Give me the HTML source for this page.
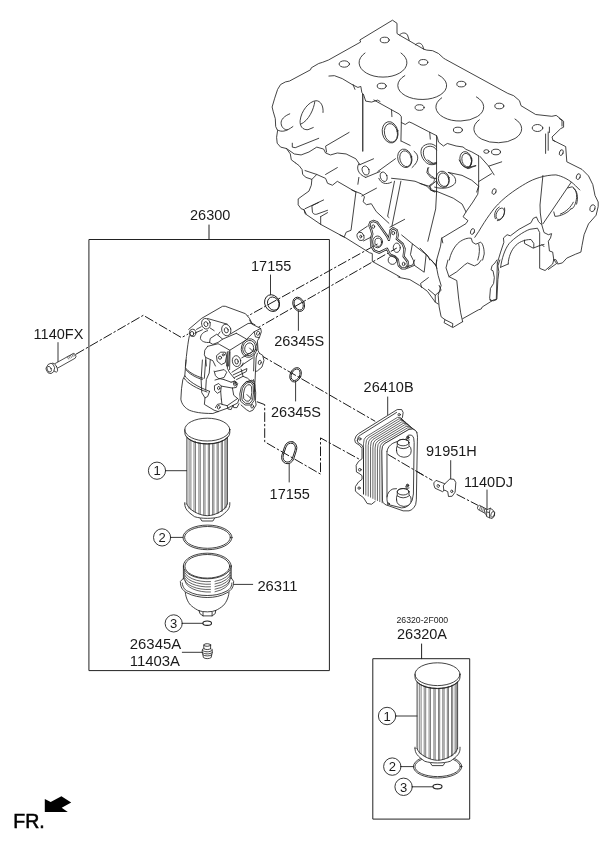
<!DOCTYPE html>
<html><head><meta charset="utf-8">
<style>
html,body{margin:0;padding:0;background:#fff;}
svg{display:block;will-change:transform;opacity:.999}
text{font-family:"Liberation Sans",sans-serif;fill:#1a1a1a}
.l{fill:none;stroke:#222;stroke-width:1;stroke-linecap:round;stroke-linejoin:round}
.t{fill:none;stroke:#222;stroke-width:.85;stroke-linecap:round;stroke-linejoin:round}
.w{fill:#fff;stroke:#222;stroke-width:1;stroke-linejoin:round}
.d{fill:none;stroke:#1a1a1a;stroke-width:1;stroke-dasharray:9.6 2 2.4 2}
.lb{font-size:14.5px}
#parts *{vector-effect:non-scaling-stroke}
</style></head><body>
<svg width="613" height="848" viewBox="0 0 613 848">
<rect width="613" height="848" fill="#fff"/>
<!-- BOXES -->
<g id="boxes" class="l">
<rect x="89.3" y="239.5" width="240.1" height="431.1"/>
<line x1="209" y1="225" x2="209" y2="239.5"/>
<rect x="373.2" y="658.7" width="96.5" height="160.4"/>
<line x1="421.6" y1="644" x2="421.6" y2="658.7"/>
</g>
<!-- LABELS -->
<g id="labels" class="lb">
<text x="190" y="220">26300</text>
<text x="251" y="270.7">17155</text>
<text x="274.2" y="346">26345S</text>
<text x="271" y="416.6">26345S</text>
<text x="269.6" y="498.8">17155</text>
<text x="33.6" y="338.8">1140FX</text>
<text x="363.6" y="391.8">26410B</text>
<text x="426" y="456">91951H</text>
<text x="464" y="487">1140DJ</text>
<text x="257.4" y="590.8" style="font-size:14.8px">26311</text>
<text x="129.8" y="648.8" style="font-size:14.9px">26345A</text>
<text x="129.8" y="665.8" style="font-size:14.9px">11403A</text>
<text x="397" y="639">26320A</text>
<text x="396.5" y="622.6" style="font-size:8.7px">26320-2F000</text>
<text x="13.3" y="827.6" style="font-size:19.5px;fill:#000;stroke:#000;stroke-width:.55">FR.</text>
</g>
<!-- PARTS -->
<g id="parts">
<!-- CENTERLINES -->
<g id="dashes" class="d">
<path d="M75.8,354.3 L143.3,315.3 L181.5,337.6 L190,333"/>
<path d="M226,328 L251.4,314 L377.5,244"/>
<path d="M252,331 L260.4,326.3 L396.8,248"/>
<path d="M259.8,354.7 L375.2,421.3"/>
<path d="M256.9,401.7 L264.7,404.6 L264.7,441.8 L320.5,474.1 L320.5,437.9 L359.8,459.5"/>
<path d="M387.7,454.3 L432.3,480.4 M456.6,494.3 L477.9,505.3"/>
</g>
<!-- RINGS -->
<g id="rings" class="t" style="stroke-width:1">
<ellipse cx="272.1" cy="303.1" rx="7.3" ry="8.6" transform="rotate(-25 272.1 303.1)"/>
<ellipse cx="273.3" cy="303.6" rx="5.6" ry="6.8" transform="rotate(-25 273.3 303.6)"/>
<ellipse cx="298.7" cy="304.3" rx="5.6" ry="7.4" transform="rotate(-25 298.7 304.3)"/>
<ellipse cx="298.7" cy="304.3" rx="4.3" ry="6" transform="rotate(-25 298.7 304.3)"/>
<ellipse cx="295.6" cy="374.8" rx="5.4" ry="7.5" transform="rotate(25 295.6 374.8)"/>
<ellipse cx="295.6" cy="374.8" rx="4.1" ry="6.1" transform="rotate(25 295.6 374.8)"/>
<rect x="283" y="441.2" width="12.4" height="22.8" rx="6.2" ry="7" transform="rotate(18 289.2 452.6)"/>
<rect x="284.4" y="442.8" width="9.6" height="19.6" rx="4.8" ry="5.6" transform="rotate(18 289.2 452.6)"/>
</g>
<!-- ring/label leaders -->
<g class="l" style="stroke-width:.9">
<line x1="270.5" y1="275" x2="270.5" y2="294.5"/>
<line x1="298.4" y1="311" x2="298.4" y2="330.4"/>
<line x1="295.6" y1="382" x2="295.6" y2="401"/>
<line x1="289.2" y1="463.5" x2="289.2" y2="482"/>
<line x1="58" y1="342.6" x2="58" y2="361.9"/>
<line x1="387.7" y1="397" x2="387.7" y2="414.7"/>
<line x1="450.7" y1="460.6" x2="450.7" y2="478.9"/>
<line x1="487" y1="490" x2="487" y2="508.6"/>
</g>
<!-- BOLT 1140FX -->
<g id="boltfx" class="t" style="stroke-width:.8">
<path d="M55.4,363.4 L73.4,353.4 L75.2,354.2 L76,356.4 L75.2,358.2 L56.9,368.5" style="fill:#fff"/>
<path d="M67.5,357 L68.5,359 M69,356.2 L70,358.2 M70.5,355.4 L71.5,357.4 M72,354.6 L73,356.6 M73.4,353.9 L74.4,355.9" style="stroke-width:.6"/>
<ellipse cx="54.6" cy="367.6" rx="2.2" ry="4.9" transform="rotate(-25 54.6 367.6)" style="fill:#fff"/>
<path d="M46.2,367.8 L48.1,364.5 L51,363.2 L53.2,364.5 L54.7,367.8 L53.6,371.8 L51,373.6 L48.1,372.9 L46.5,370.3 Z" style="fill:#fff"/>
<ellipse cx="49.2" cy="369.2" rx="2" ry="3" transform="rotate(-25 49.2 369.2)"/>
</g>
<!-- COOLER -->
<g id="cooler" class="t">
<g transform="translate(340,400) scale(0.146819)">
<path d="M240,690 L215,710 L185,705 L160,665 L125,640 L105,620 L105,590 L125,560 L150,540 L150,515 L130,500 L112,490 L110,445 L125,420 L150,400 L150,330 L135,310 L105,290 L100,270 L110,245 L125,230 L390,65 L420,65 L430,85 L425,120 L415,130 L530,230 L520,680 L505,730 L470,755 L430,755 L330,720 Z" style="fill:#fff;stroke:none"/>
<path d="M240,690 L215,710 L185,705 L160,665 L125,640 L105,620 L105,590 L125,560 L150,540 L150,515 L130,500 L112,490 L110,445 L125,420 L150,400 L150,330 L135,310 L105,290 L100,270 L110,245 L125,230 L390,65 L420,65 L430,85 L425,120 L415,130"/>
<path d="M118,275 L125,250 L140,238 L385,85 M160,330 L160,640 M118,275 L122,290 L150,308 L160,330"/>
<circle cx="403" cy="100" r="8"/><circle cx="135" cy="265" r="8"/><circle cx="135" cy="475" r="9"/><circle cx="130" cy="600" r="8"/>
<path d="M287,700 L287,345 Q287,310 304,298 L470,200 Q498,193 514,208 M271,692 L271,339 Q271,304 288,292 L460,190 Q488,183 504,200 M255,685 L255,333 Q255,298 272,286 L450,180 Q478,172 493,191 M239,678 L239,327 Q239,292 257,280 L441,169 Q468,162 482,183 M224,670 L224,322 Q224,286 241,274 L431,159 Q458,152 472,174 M208,662 L208,316 Q208,280 225,268 L421,149 Q447,142 462,166 M192,655 L192,310 Q192,274 210,262 L412,138 Q437,132 451,158 M176,648 L176,304 Q176,268 194,256 L402,128 Q427,121 440,149 M160,640 L160,298 Q160,262 178,250 L392,118 Q417,111 430,141 M415,130 L428,140 L527,222" style="stroke-width:.7"/>
<path d="M285,345 Q285,310 302,298 L470,200 Q500,192 512,206 Q532,222 527,280 L520,680 Q518,720 505,730 Q490,752 470,755 L430,755 L330,720 Q295,712 290,690 Z" style="fill:#fff"/>
<path d="M320,350 Q325,315 360,295 L395,280 M465,240 Q495,232 502,260 L505,290 L500,640 Q498,690 470,715 Q445,738 420,735 L340,715 Q318,705 320,680 L320,350 M320,660 Q325,620 360,606 L385,604"/>
<!-- upper port -->
<ellipse cx="462" cy="255" rx="8" ry="9" style="fill:#555"/><path d="M450,262 L455,275 L472,272"/>
<path d="M385,345 Q385,385 435,390 Q485,388 485,345 Q485,320 470,312 L470,290 A40,22 0 0 0 390,290 L390,312 Q382,325 385,345 Z" style="fill:#fff"/>
<ellipse cx="430" cy="290" rx="40" ry="22"/>
<path d="M390,318 Q430,346 471,318"/>
<!-- lower port -->
<ellipse cx="460" cy="582" rx="8" ry="9" style="fill:#555"/><path d="M448,589 L453,602 L470,599"/>
<path d="M385,680 Q385,720 435,725 Q485,723 485,680 Q485,655 470,647 L470,625 A40,22 0 0 0 390,625 L390,647 Q382,660 385,680 Z" style="fill:#fff"/>
<ellipse cx="430" cy="625" rx="40" ry="22"/>
<path d="M390,653 Q430,681 471,653"/>
<circle cx="330" cy="708" r="7"/>
</g>
</g>
<!-- cooler centerline over front -->
<path class="d" d="M387.7,454.3 L425,476.3"/>
<!-- BRACKET -->
<g id="bracket" class="t">
<g transform="translate(425,440) scale(0.146819)">
<path d="M62,290 L75,275 L135,298 L170,265 L198,268 L210,290 L205,355 L185,383 L160,385 L155,352 L135,342 L128,345 L120,352 L68,328 L62,310 Z" style="fill:#fff"/>
<path d="M135,298 L125,312 L128,345"/>
<ellipse cx="90" cy="313" rx="8" ry="10" transform="rotate(-20 90 313)"/><ellipse cx="182" cy="350" rx="7" ry="9" transform="rotate(-20 182 350)"/>
</g>
</g>
<!-- BOLT 1140DJ -->
<g id="boltdj" class="t" style="stroke-width:.8">
<path d="M487,509.3 L479.3,505.3 C477.6,505.6 476.8,508.4 478.1,509.5 L485.2,513.4" style="fill:#fff"/>
<path d="M480.6,506 L479.6,509.6 M482.1,506.8 L481.1,510.4 M483.6,507.6 L482.6,511.2 M485.1,508.4 L484.1,512" style="stroke-width:.6"/>
<ellipse cx="486.8" cy="512.8" rx="1.7" ry="4.2" transform="rotate(-22 486.8 512.8)" style="fill:#fff"/>
<path d="M487,509.7 L490.3,508.2 L493.3,510.4 L494.7,512.6 L494.4,515.9 L492.2,518.5 L489.6,517.8 L487,516.7 Z" style="fill:#fff"/>
<path d="M490.3,508.2 L489.4,512.5 L489.6,517.8 M489.4,512.5 L487,512"/>
<ellipse cx="492.7" cy="514.4" rx="1.7" ry="3" transform="rotate(20 492.7 514.4)"/>
</g>
<!--BLOCK-START-->
<!-- ENGINE BLOCK -->
<g id="block" class="t">
<!-- top deck outline + right side outline (real coords) -->
<path d="M295.2,162.7 L291.3,159.8 L290.3,153.9 L286.4,148.5 L280.6,147.1 L277.2,143.2 L276.6,137.3 L277.6,130.5 L275.7,126.6 L275.3,118.7 L273.3,111.9 L272.1,107 L274.7,98.2 L277.6,89.4 L280.6,84.5 L285.5,81.9 L289.4,81.1 L310.5,69.8 L311.3,67.8 L318.7,63.5 L322.6,62.3 L328.5,60 L360.7,42 L359.8,40 L392.5,20.2 L397,23.3 L397,33.5 L399.4,35.1 L423.8,49.2 L426.8,50.1 L432.6,50.7 L438.5,53.5 L443.4,58 L445.4,59.3 L507.8,93.4 L513.7,95.7 L519.5,100.7 L521,105.7 L535.7,114.5 L551.8,116.3 L556.2,115.4 L560.7,118.9 L563.6,121.3 L563.6,127.2 L560.7,128.6 L552,137 L553,140.3 L565.7,146.6 L566.8,161.8 L582,169.4 L588.5,175.9 L592.8,184.6 L595,195.5 L598.2,202 L598.2,206.5 L596.1,215.2 L588.5,223.9 L584.1,234.7 L582,245.6 L580.9,252.1 L575.5,254.2 L566.8,258.1 L562.4,262.9 L558.1,264 L555.9,259.7 L553.8,259.7"/>
<path d="M559.2,118.4 L562,120.6 L562,126"/>
<!-- bumps on top right edge -->
<path d="M399.4,35.1 C402,32 406,32.5 407.5,35 L409.2,40.3 M415.4,44.8 C418,42 421,43 422.5,45.5 L423.8,49.2"/>
<!-- bores -->
<path d="M365,53 A24,14.5 0 1 0 401,53"/>
<path d="M404.8,75.6 A24.5,14 0 1 0 438.5,75"/>
<path d="M441.7,97.8 A24,14 0 1 0 476.4,96.9"/>
<path d="M479.3,119.8 A24,14 0 1 0 515,119"/>
<!-- small deck holes -->
<g>
<ellipse cx="384.7" cy="40" rx="4.5" ry="2.8"/><ellipse cx="423.3" cy="62.3" rx="4.5" ry="2.8"/>
<ellipse cx="381.7" cy="86" rx="4.5" ry="2.8"/><ellipse cx="461.3" cy="84.1" rx="4.5" ry="2.8"/>
<ellipse cx="419.6" cy="107.5" rx="4.5" ry="2.8"/><ellipse cx="344.3" cy="64" rx="5.2" ry="3.2"/>
<ellipse cx="499.3" cy="106" rx="4.5" ry="2.8"/><ellipse cx="457.9" cy="130" rx="4.5" ry="2.8"/>
<ellipse cx="537.5" cy="128" rx="5.3" ry="3.5"/><ellipse cx="496" cy="152" rx="4.5" ry="2.8"/>
<ellipse cx="486.4" cy="151.5" rx="2.6" ry="1.8"/>
<ellipse cx="561.3" cy="152.6" rx="1.8" ry="3" transform="rotate(20 561.3 152.6)"/>
<ellipse cx="578.3" cy="176.6" rx="1.9" ry="3" transform="rotate(20 578.3 176.6)"/>
<ellipse cx="494.1" cy="191.5" rx="1.9" ry="3" transform="rotate(20 494.1 191.5)"/>
<ellipse cx="592.5" cy="208.2" rx="2.5" ry="3.6" transform="rotate(20 592.5 208.2)"/>
<ellipse cx="472.5" cy="231.5" rx="1.9" ry="3" transform="rotate(20 472.5 231.5)"/>
</g>
<!-- double verticals on right -->
<path d="M545.6,134 L545.6,153.4 M548.2,132 L548.2,150.3 M549.4,127.1 L549.4,132.5"/>
<!-- long double lines in center -->
<path d="M394.5,181.2 L387.6,216.4 L389,217.5 M400.9,181.2 L391.9,226.2"/>
<!-- bell housing outer arc -->
<path d="M474.8,237.3 L478.7,231.5 C486,219 494,208 498.3,204 C507,195 518,188 525.7,183.5 C534,178.5 545,175 555.9,174.9 C562,176 570,180 575.5,185.7 L579.8,190"/>
<!-- lines from arc -->
<path d="M542.9,175.5 L540,205 L540.3,213 L541.8,223.9 M571.1,182.4 L542.9,223.9"/>
<!-- oval hole upper right -->
<path d="M567.9,187.9 L572.2,186.8 C575.5,188.5 577,193 576.6,197.6 C576,204 573,210 571.1,208.7 M571.1,208.7 C568,213 560,216.5 554.9,216.3 L553.8,211.9 M573.3,187.9 C577.5,191 578.5,197 576.6,204.1 M573.3,202.2 C571,207 566,212 560.3,214.1"/>
<!-- tile G1: left face -->
<g transform="translate(260,60) scale(0.19576)">
<path d="M152,275 C125,285 105,305 108,325 C110,345 125,358 140,356 M90,358 C110,368 130,368 168,340"/>
<path d="M322,268 C325,235 310,207 285,208 C250,212 210,260 205,310 C203,335 215,358 245,356 L272,345 M280,213 C275,250 250,310 208,328"/>
<path d="M165,425 L165,445 L180,448 L300,400 M135,452 L175,480 L210,485 L250,470 L290,445 L325,455 L335,475 L360,485 L395,475 L440,480 L490,505 L510,535 M455,370 L335,440 L340,470"/>
<path d="M352,82 L380,80 L420,95 L470,125 L500,140 L515,135 L520,165 L530,180 L540,210 L570,215 L600,205 L613,212 M475,125 L485,150"/>
<path d="M525,175 L525,465" style="stroke-width:1.2"/>
</g>
<!-- tile G3: center plugs -->
<g transform="translate(370,100) scale(0.19576)">
<path d="M20,0 L110,50 L150,72 L160,85 L160,115 L180,125 L200,112 L215,118 L300,162 L340,182 L345,195 L350,215 L375,235 L395,222 L440,235 L475,240 L490,252 L520,265 L555,285"/>
<path d="M110,50 L112,85 M160,115 L158,210 M305,165 L308,200 M340,182 L340,470 M160,210 L205,232"/>
<ellipse cx="103" cy="165" rx="40" ry="55" transform="rotate(-12 103 165)"/>
<ellipse cx="107" cy="168" rx="33" ry="48" transform="rotate(-12 107 168)"/>
<ellipse cx="178" cy="298" rx="36" ry="48" transform="rotate(-15 178 298)"/>
<ellipse cx="182" cy="300" rx="29" ry="41" transform="rotate(-15 182 300)"/>
<path d="M225,262 C250,280 255,310 215,345"/>
<path d="M340,240 C320,215 285,222 268,240 C250,265 265,310 300,328 C315,333 330,330 340,325 M340,255 C325,230 295,232 278,248 C265,270 275,305 305,322 C320,326 330,322 340,318"/>
<ellipse cx="490" cy="305" rx="30" ry="42" transform="rotate(-15 490 305)"/>
<ellipse cx="494" cy="307" rx="24" ry="35" transform="rotate(-15 494 307)"/>
<path d="M500,345 L540,335"/>
<ellipse cx="372" cy="405" rx="33" ry="42" transform="rotate(-15 372 405)"/>
<ellipse cx="376" cy="407" rx="26" ry="35" transform="rotate(-15 376 407)"/>
<path d="M400,370 C425,380 445,400 435,425 C420,445 380,460 330,445"/>
<ellipse cx="70" cy="392" rx="17" ry="25" transform="rotate(-20 70 392)"/>
<path d="M40,365 L130,300 M45,400 C55,425 80,435 110,420 M110,400 L160,405 L230,415 L290,440 L310,460 L330,470"/>
<path d="M300,345 C290,360 295,380 325,395 C335,410 325,425 305,435 C305,450 315,462 340,470"/>
<path d="M555,285 L555,440 L545,470 M400,370 L470,385 L520,410 L555,440"/>
</g>
<!-- tile G4: right upper -->
<g transform="translate(480,100) scale(0.21697)">
<path d="M0,260 L40,305 L65,345 M40,305 L100,285"/>
<path d="M335,185 L345,190"/>
</g>
<!-- tile G9: center-right -->
<g transform="translate(420,160) scale(0.19576)">
<path d="M85,160 L80,250 L40,415"/>
<path d="M300,135 L295,175 L270,215 L235,265 L220,290 L245,310 L235,325 L110,400 L105,440 L85,511 L82,540"/>
<path d="M85,160 L170,195 L215,225 L235,265"/>
<path d="M0,120 L50,135 L55,155 L85,160 M50,135 L80,110"/>
<ellipse cx="410" cy="275" rx="19" ry="31" transform="rotate(25 410 275)"/>
<path d="M385,300 C375,280 385,250 405,240 M395,310 C415,312 438,280 432,245" />
<path d="M150,511 C155,480 175,440 200,420 C220,405 245,396 262,400 L268,420 L285,430 L310,420 C320,425 328,450 328,480 L320,511 M300,430 C306,450 305,480 295,511"/>
<path d="M0,450 L40,490 L50,511"/>
<path d="M200,0 L215,25 L245,45 L270,35 L285,30 M265,0 L255,40"/>
<path d="M300,110 L365,70"/>
<path d="M40,0 L70,20 L85,15 M40,40 L35,65 L55,90 L80,95"/>
</g>
<!-- tile G5: crank cap -->
<g transform="translate(480,200) scale(0.21697)">
<path d="M80,290 L95,240 L110,195 L108,175 L125,160 L140,165 L180,135 L235,105 L245,85 L260,78 L270,100 L285,115 L295,150 L315,160 L330,155 L325,175 L315,190 L320,235 L335,240 L340,275 L335,295 L300,325 L275,315 L275,210"/>
<path d="M95,310 C100,270 115,225 135,200 C155,178 200,145 230,135 L265,130 L275,150 L275,210 M130,295 C130,265 145,230 160,215 C175,195 205,182 235,182 L248,200 L248,220"/>
<path d="M95,310 L130,295 M205,185 L205,200 L245,222 L275,210 L295,205 M285,205 L295,215"/>
<path d="M80,290 L75,460 L60,465 L45,460"/>
<path d="M340,275 L355,295 M315,320 L350,295"/>
</g>
<!-- tile G6: left-mid -->
<g transform="translate(260,150) scale(0.19576)">
<path d="M180,65 L200,80 L215,100 L218,125 L235,140 L265,150 L262,180 L250,210 L215,235 L195,250 L195,280 L210,300 L225,305 L230,325 L310,380 L430,445"/>
<path d="M230,105 L290,125 L265,150 M290,125 L335,145 L345,170 L370,180 L395,160 L490,215 M335,125 L395,90"/>
<path d="M510,75 L580,45 M540,140 L613,110 M505,70 C490,90 500,125 540,140 M505,140 L500,175 M520,235 L595,195"/>
<ellipse cx="540" cy="105" rx="17" ry="24" transform="rotate(-20 540 105)"/>
<path d="M490,215 L465,410 L440,420 L432,440"/>
<path d="M230,300 L325,255 M225,305 L235,325 M300,268 L265,285 L268,318 C272,328 282,330 290,328 L345,308 M310,340 L345,320 M310,340 L310,380"/>
</g>
<!-- tile G7: oil filter mount -->
<g transform="translate(340,190) scale(0.19576)">
<path d="M22,240 L150,320 L165,325 L165,365 L300,440 L306,443"/>
<path d="M60,0 L110,20 L125,35 L118,60 L135,75 L160,70 L185,110 L250,170 M0,230 L22,240"/>
<path d="M255,190 L330,150"/>
<path d="M150,180 L155,165 L170,158 L190,165 L215,200 L240,235 L250,255 L255,225 L258,205 L272,195 L290,205 L295,230 L290,250 L320,275 L330,300 L325,340 L345,365 L348,385 L335,400 L315,400 L300,385 L295,355 L280,340 L255,330 L240,300 L200,320 L175,310 L160,285 L158,250 L165,225 L160,205 Z" style="stroke-width:2.3"/><path d="M150,180 L155,165 L170,158 L190,165 L215,200 L240,235 L250,255 L255,225 L258,205 L272,195 L290,205 L295,230 L290,250 L320,275 L330,300 L325,340 L345,365 L348,385 L335,400 L315,400 L300,385 L295,355 L280,340 L255,330 L240,300 L200,320 L175,310 L160,285 L158,250 L165,225 L160,205 Z" style="stroke:#fff;stroke-width:.8"/>
<ellipse cx="170" cy="187" rx="7" ry="9"/><ellipse cx="272" cy="220" rx="7" ry="9"/><ellipse cx="325" cy="378" rx="7" ry="9"/>
<ellipse cx="192" cy="265" rx="25" ry="30"/><ellipse cx="195" cy="267" rx="17" ry="21"/>
<ellipse cx="290" cy="295" rx="18" ry="24"/>
<ellipse cx="105" cy="237" rx="17" ry="22" transform="rotate(-20 105 237)"/><ellipse cx="106" cy="238" rx="5" ry="7"/>
<path d="M95,215 L140,185 M120,260 L160,240"/>
<circle cx="268" cy="358" r="22"/>
<path d="M315,230 L370,275 L360,330 L375,360 L380,385 L345,400 M380,385 L430,420 L440,330 M370,275 L440,330 L490,385 L495,400"/>
<path d="M520,245 L525,270 M490,385 L495,358"/>

</g>
<!-- tile G8: bottom -->
<g transform="translate(400,260) scale(0.19576)">
<path d="M-10,86 L0,90 L50,100 L100,130 L140,160 L180,215 L195,225"/>
<path d="M145,90 L105,120 L110,140 M145,150 L180,180 L210,155 L200,130 M180,180 L180,215"/>
<path d="M160,0 L185,30 L195,80 L210,130 L195,180 L200,240 L210,290 L230,305 L225,320 L270,345 L320,315 M230,305 L270,325 L268,340"/>
<path d="M245,0 L235,40 L250,85 L290,105 L300,200 L310,270 L320,315 M250,85 L290,60 L330,25 L345,15 L380,30 L400,20 L415,0"/>
<path d="M320,300 L400,255 L415,250 L420,240 L460,215 L475,205 L495,200 L500,100 L505,60 L500,30 L510,0 M495,0 L485,15 L470,30 L465,50 L475,55 L482,90 L478,120 L462,145 L458,195 L465,210"/>

<path d="M35,35 L65,25 L75,0"/>
</g>
</g>
<!--BLOCK-END-->
<!--HOUSING-START-->
<!-- OIL FILTER HOUSING -->
<g id="housing" class="t">
<!-- white silhouette to hide centerlines -->
<path d="M188.7,329.4 L201.8,318.3 L222.6,306.3 L225.2,306.3 L245.5,313.7 L249.4,318.3 L252,323.2 L260.7,328.5 L261.3,331.7 L257.4,340.9 L258,350.7 L262.6,355.2 L263.9,360.5 L262,367 L256,372 L254.5,385 L256,395 L256,405 L252.8,410.2 L249.6,411.5 L241,405 L218,411.5 L212.8,413.5 L190,412 L182,407 L180.9,399.2 L181.5,388.7 L182.8,379.6 L184.8,375.7 L186,360 L187,345 Z" style="fill:#fff;stroke:none"/>
<g transform="translate(175,300) scale(0.130506)">
<path d="M105,225 L205,140 L365,48 L385,48 L540,105 L570,140 L590,178"/>
<ellipse cx="237" cy="182" rx="33" ry="41" transform="rotate(-15 237 182)"/><ellipse cx="237" cy="185" rx="15" ry="19" transform="rotate(-15 237 185)"/>
<ellipse cx="393" cy="230" rx="35" ry="45" transform="rotate(-15 393 230)"/><ellipse cx="393" cy="232" rx="15" ry="20" transform="rotate(-15 393 232)"/>
<path d="M250,142 L400,185 M270,215 L300,235"/>
<ellipse cx="135" cy="252" rx="25" ry="28"/><ellipse cx="130" cy="258" rx="14" ry="17"/>
<path d="M165,225 L200,205 M160,250 L210,228"/>
<path d="M110,275 C100,320 90,400 80,506"/>
<path d="M250,235 C215,245 195,265 195,295 C200,315 230,330 265,325"/>
<path d="M265,325 L270,295 L320,262 L365,300 L470,255 M265,325 L290,340 L330,325 L365,300 M330,265 L345,245"/>
<path d="M425,260 L560,180 L590,178 L613,190"/>
<path d="M250,355 L330,335 L340,340 L420,385 L540,310 M470,255 L545,298"/>
<path d="M250,355 L228,385 L225,420 L235,440 L240,506 M235,440 L290,465 L310,506"/>
<path d="M420,385 L415,430 L410,506 M400,400 L395,506"/>
<path d="M320,425 L350,400 L385,400 L395,430 L385,480 L355,495 L325,470 Z"/><circle cx="345" cy="442" r="12"/><circle cx="370" cy="420" r="8"/>
</g>
<g transform="translate(215,320) scale(0.130506)">
<path d="M265,0 L280,30 L350,65 L355,90 L340,135 L325,160 L330,235 L340,255"/>
<path d="M350,65 L300,90 L260,130 L232,158 M300,90 L310,130 L340,135"/>
<ellipse cx="330" cy="102" rx="11" ry="16" transform="rotate(20 330 102)"/>
<ellipse cx="262" cy="215" rx="60" ry="72" transform="rotate(15 262 215)"/>
<ellipse cx="262" cy="215" rx="49" ry="59" transform="rotate(15 262 215)"/>
<ellipse cx="262" cy="217" rx="34" ry="42" transform="rotate(15 262 217)"/>
<path d="M265,215 L290,240"/>
<path d="M340,255 L365,270 L375,310 L360,360 L325,390 L310,395"/>
<ellipse cx="343" cy="325" rx="11" ry="17" transform="rotate(15 343 325)"/>
<path d="M325,255 L315,290 L310,395 L305,506 L300,560 M300,260 L296,390"/>
<ellipse cx="165" cy="315" rx="32" ry="42" transform="rotate(-10 165 315)"/><ellipse cx="165" cy="318" rx="13" ry="20" transform="rotate(-10 165 318)"/>
<path d="M100,240 L95,370 L110,400 L150,450 M115,245 L112,380"/>
<path d="M130,400 L210,350 L215,330 M140,420 L245,372 L240,395 L150,440"/>
<path d="M205,290 L300,235 M200,350 L290,290"/>
<path d="M0,395 L70,380 L90,400 L70,440 L0,460"/>
<path d="M215,500 L240,475 L280,462 L300,470"/>
<circle cx="150" cy="480" r="10"/>
</g>
<g transform="translate(175,360) scale(0.130506)">
<path d="M85,0 L80,60 L75,120 L60,150 L50,220 L45,300 C50,340 80,370 110,385 C150,400 200,410 290,410 L330,395"/>
<path d="M80,60 C100,90 150,120 215,140 M85,75 C105,105 160,135 210,150"/>
<path d="M75,120 C100,160 170,205 265,240 M70,140 C95,180 170,220 245,245"/>
<path d="M210,0 L200,150 L205,250 L230,290 L225,340 L300,385 L330,395 M235,0 L225,140 M270,0 L262,100 L240,150 L235,230"/>
<path d="M265,240 L250,280 L230,290"/>
<path d="M305,195 L335,180 L355,200 L350,240 L325,255 L305,235 Z"/><ellipse cx="335" cy="215" rx="9" ry="13" transform="rotate(15 335 215)"/>
<ellipse cx="335" cy="362" rx="10" ry="14" transform="rotate(15 335 362)"/><path d="M310,365 L325,340 L350,335 L360,340"/>
<path d="M300,85 L310,120 L330,140 L375,150"/>
<path d="M330,395 L400,370 L480,330 L490,300"/>
<path d="M400,350 L405,375 L430,380 L445,345 L450,365 L475,365 L490,335"/>
<path d="M355,300 L360,340 L400,350 L480,295"/>
<ellipse cx="460" cy="185" rx="10" ry="14" transform="rotate(15 460 185)"/><path d="M430,170 L460,160 L480,180 L470,210 L440,215"/>
<path d="M375,150 L430,170 M355,200 L440,215 M350,240 L355,300 M440,215 L450,270 L480,295"/>
</g>
<g transform="translate(215,360) scale(0.130506)">
<path d="M215,190 L240,165 L280,160 L300,185 L305,250 L300,310 L275,345 L230,345 L195,315 L190,260 L200,215 Z"/>
<path d="M225,195 L245,175 L275,172 L292,195 L295,250 L288,305 L268,332 L235,332 L208,308 L203,260 L210,220 Z"/>
<path d="M235,205 L250,190 L270,190 L280,205 L282,250 L275,295 L260,315 L240,315 L220,295 L218,260 L225,225 Z"/>
<path d="M245,265 L280,300"/>
<path d="M295,150 L305,190 L312,250 L310,310 L315,345 L290,385 L265,395 L240,380 L200,345"/>
<ellipse cx="285" cy="355" rx="10" ry="13" transform="rotate(15 285 355)"/>
<path d="M305,190 L250,140 L215,125 L165,150 M215,125 L200,70"/>
</g>
</g>
<!--HOUSING-END-->
<!--FILTER-START-->
<!-- FILTER ELEMENT (main) -->
<g id="filt1" class="t">

<g transform="translate(207.3,429.6)">
<!-- element drawn with top ellipse center at (0,0); body height H=66.5 -->
<path d="M-22.5,0 L-22.5,74.4 C-22.5,79 -20,82 -12.7,87.1 C-6,89.3 6,89.3 12.7,87.1 C20,82 22.5,79 22.5,74.4 L22.5,0 Z" style="fill:#fff;stroke:none"/>
<path d="M-20.4,8 L-20.4,74.4 M20.1,8 L20.1,74.4" />
<g style="stroke:#3a3a3a;stroke-width:.65">
<path d="M-18.2,9.5 V79 M-16.4,10.3 V80 M-13.3,11.5 V82 M-11.8,11.9 V82.6 M-8.4,12.9 V84 M-7,13.2 V84.3 M-3.6,13.9 V85.3 M-2.3,14 V85.5 M1,14.2 V85.8 M2.2,14.2 V85.8 M5.3,13.9 V85.3 M6.6,13.7 V85 M9.8,13 V84 M11,12.6 V83.6 M14,11.5 V82 M15.2,11 V81.5 M17.6,9.8 V79.5 M18.8,9 V78"/>
</g>
<ellipse cx="0" cy="0" rx="22.5" ry="11.4" style="fill:#fff"/>
<path d="M-22.5,0 L-22.5,3 A22.5,11.4 0 0 0 22.5,3 L22.5,0"/>
<path d="M-20.6,7.6 A22.5,11.4 0 0 0 20.4,7.4" />
<path d="M-22.5,74.4 C-22.5,79 -20,82 -12.7,87.1 C-6,89.3 6,89.3 12.7,87.1 C20,82 22.5,79 22.5,74.4 L22.5,73"/>
<path d="M-22.5,74.4 L-22.5,73"/>
<path d="M-20.5,74.4 C-19,80 -8,86.1 0,86.1 C8,86.1 19,80 20,74.4"/>
<path d="M-7,88.9 L-5.4,91.4 L5.6,91.4 L7.2,88.8"/>
</g>
</g>
<!-- O-RING 2 -->
<g class="t">
<ellipse cx="207.5" cy="537.4" rx="24.5" ry="12.3"/>
<ellipse cx="207.5" cy="537.4" rx="22.9" ry="10.9"/>
<!-- small o-ring 3 -->
<ellipse cx="207.2" cy="623.2" rx="4.3" ry="2.2" style="stroke-width:1.1"/>
</g>
<!-- CAP 26311 -->
<g id="cap" class="t">
<ellipse cx="207.3" cy="566" rx="23.9" ry="12.8"/>
<ellipse cx="207.3" cy="566.3" rx="22.4" ry="11.8"/>
<path d="M183.4,566 L183.4,579 M231.2,566 L231.2,578.5"/>
<g style="stroke-width:.7">
<path d="M184,570 A23.3,11.8 0 0 0 210.5,581.6 M215,581.4 A23.3,11.8 0 0 0 230.6,570"/>
<path d="M184,572.6 A23.3,11.8 0 0 0 210.5,584.2 M215,584 A23.3,11.8 0 0 0 230.6,572.6"/>
<path d="M184,575.2 A23.3,11.8 0 0 0 210.5,586.8 M215,586.6 A23.3,11.8 0 0 0 230.6,575.2"/>
<path d="M184,577.8 A23.3,11.8 0 0 0 210.5,589.4 M215,589.2 A23.3,11.8 0 0 0 230.6,577.8"/>
<path d="M185,580.6 A23.3,11.8 0 0 0 210.5,592 M215,591.8 A23.3,11.8 0 0 0 229.6,580.6"/>
</g>
<path d="M183.4,578.3 L180.4,581.4 C180.4,587 182,590 186.9,592.9 C193,596 200,597.5 207.2,597.5 C215,597.5 221,596 226.7,592.9 C232,590 233.6,587 233.6,581.4 L231.2,577.8"/>
<path d="M182.2,583 C182.6,588 186,591 188.4,591.4 C194,594.5 200,595.5 207.2,595.5 C214,595.5 220,594.5 226,591.4 C229,590 231.6,588 231.9,583"/>
<path d="M185.3,592.5 C186,599 189,604 191.5,605.9 C194,608 197,610 199.3,610.8 M229,592.5 C228.5,599 225,604 222.9,605.9 C221,607.5 218,609.5 215.6,610.5"/>
<path d="M199.1,610.8 L199.9,613.6 L203,615.9 L212.1,615.9 L215.2,613.6 L215.7,610.5 M199.1,610.8 C203,612.3 212,612.3 215.7,610.5 M203,612.2 V615.9 M212.1,612.2 V615.9"/>
</g>
<!-- PLUG -->
<g id="plug" class="t">
<ellipse cx="207.2" cy="645" rx="3.4" ry="1.3"/>
<path d="M203.8,645 V649 M210.6,645 V649 M203.8,648.6 C205,650 209.5,650 210.6,648.6"/>
<path d="M202.5,649.2 C202,651 202,653 202.8,654.3 L203.4,657.5 C205,659 209.5,659 211.2,657.5 L211.8,654.3 C212.5,653 212.4,651 212,649.2"/>
<path d="M202.5,650.5 C205,652.3 209.5,652.3 212,650.5 M202.4,652.6 C205,654.4 209.5,654.4 212.2,652.6 M202.9,654.8 C205,656.4 209.5,656.4 211.8,654.8"/>
</g>
<!-- CALLOUTS -->
<g id="callouts">
<g class="l" style="stroke-width:.9">
<circle cx="157" cy="470.7" r="8.6"/><line x1="165.6" y1="470.7" x2="186.6" y2="470.7"/>
<circle cx="162.1" cy="537.4" r="8.6"/><line x1="170.7" y1="537.4" x2="183" y2="537.4"/>
<circle cx="173.7" cy="623.4" r="8.6"/><line x1="182.3" y1="623.3" x2="202.7" y2="623.3"/>
<line x1="234" y1="584.4" x2="252.7" y2="584.4"/>
<line x1="182.3" y1="652.3" x2="202.2" y2="652.3"/>
</g>
<g style="font-size:13px" text-anchor="middle">
<text x="157" y="475.4">1</text><text x="162.1" y="542.1">2</text><text x="173.7" y="628.1">3</text>
</g>
</g>
<!--FILTER-END-->
<!-- BOX2 CONTENTS -->
<g id="box2" class="t">
<ellipse cx="437.6" cy="766.6" rx="24.2" ry="11.4"/>
<ellipse cx="437.6" cy="766.6" rx="22.7" ry="10"/>
<g transform="translate(437.5,674.2)">
<!-- element drawn with top ellipse center at (0,0); body height H=66.5 -->
<path d="M-22.5,0 L-22.5,74.4 C-22.5,79 -20,82 -12.7,87.1 C-6,89.3 6,89.3 12.7,87.1 C20,82 22.5,79 22.5,74.4 L22.5,0 Z" style="fill:#fff;stroke:none"/>
<path d="M-20.4,8 L-20.4,74.4 M20.1,8 L20.1,74.4" />
<g style="stroke:#3a3a3a;stroke-width:.65">
<path d="M-18.2,9.5 V79 M-16.4,10.3 V80 M-13.3,11.5 V82 M-11.8,11.9 V82.6 M-8.4,12.9 V84 M-7,13.2 V84.3 M-3.6,13.9 V85.3 M-2.3,14 V85.5 M1,14.2 V85.8 M2.2,14.2 V85.8 M5.3,13.9 V85.3 M6.6,13.7 V85 M9.8,13 V84 M11,12.6 V83.6 M14,11.5 V82 M15.2,11 V81.5 M17.6,9.8 V79.5 M18.8,9 V78"/>
</g>
<ellipse cx="0" cy="0" rx="22.5" ry="11.4" style="fill:#fff"/>
<path d="M-22.5,0 L-22.5,3 A22.5,11.4 0 0 0 22.5,3 L22.5,0"/>
<path d="M-20.6,7.6 A22.5,11.4 0 0 0 20.4,7.4" />
<path d="M-22.5,74.4 C-22.5,79 -20,82 -12.7,87.1 C-6,89.3 6,89.3 12.7,87.1 C20,82 22.5,79 22.5,74.4 L22.5,73"/>
<path d="M-22.5,74.4 L-22.5,73"/>
<path d="M-20.5,74.4 C-19,80 -8,86.1 0,86.1 C8,86.1 19,80 20,74.4"/>
<path d="M-7,88.9 L-5.4,91.4 L5.6,91.4 L7.2,88.8"/>
</g>
<ellipse cx="437.5" cy="786.6" rx="4.5" ry="2.3" style="stroke-width:1.1"/>
</g>
<g class="l" style="stroke-width:.9">
<circle cx="387.1" cy="716" r="8.7"/><line x1="395.8" y1="716" x2="417" y2="716"/>
<circle cx="392.3" cy="766.6" r="8.7"/><line x1="401" y1="766.6" x2="413.6" y2="766.6"/>
<circle cx="403.6" cy="786.8" r="8.7"/><line x1="412.3" y1="786.8" x2="432.8" y2="786.8"/>
</g>
<g style="font-size:13px" text-anchor="middle">
<text x="387.1" y="720.7">1</text><text x="392.3" y="771.3">2</text><text x="403.6" y="791.5">3</text>
</g>
<!-- FR ARROW -->
<path d="M44.8,798.9 L50.7,801.9 L61.4,796.3 L71.2,802.6 L61.7,807.8 L67.8,811.9 L44.8,811.9 Z" style="fill:#000;stroke:none"/>

</g>
</svg>
</body></html>
